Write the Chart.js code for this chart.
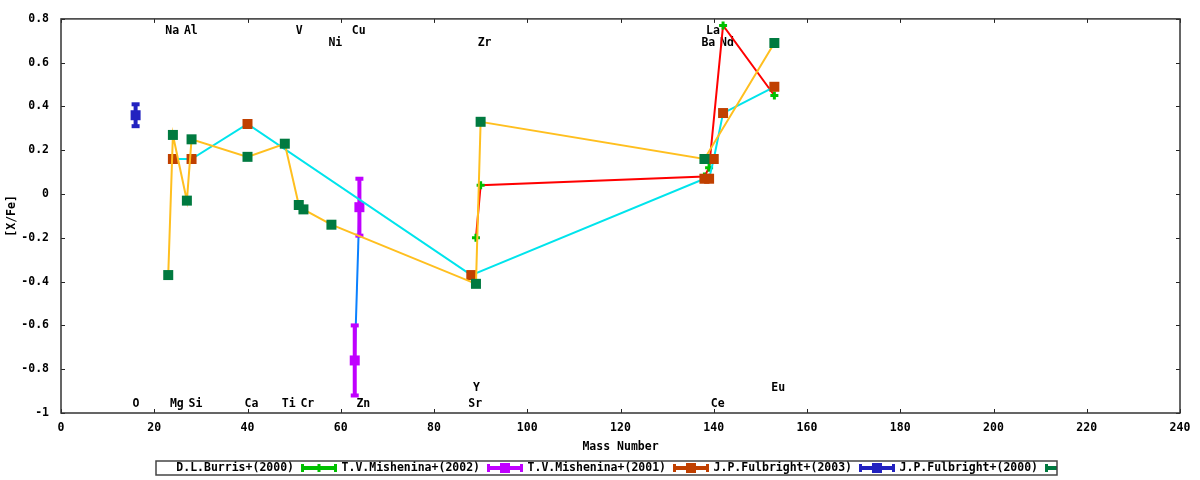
<!DOCTYPE html>
<html>
<head>
<meta charset="utf-8" />
<title>[X/Fe] - Mass Number</title>
<script src="https://cdn.jsdelivr.net/npm/chart.js@4.4.1/dist/chart.umd.min.js"></script>
<style>
  html, body { margin: 0; padding: 0; background: #fff; }
  #wrap { width: 1200px; height: 480px; }
</style>
</head>
<body>
<div id="wrap"><canvas id="chart"></canvas></div>
<script>
// x = mass number, y = [X/Fe]
const seriesNames = ["D.L.Burris+(2000)", "T.V.Mishenina+(2002)", "T.V.Mishenina+(2001)",
                     "J.P.Fulbright+(2003)", "J.P.Fulbright+(2000)"];

const burrisMass = [89, 90, 138, 139, 142, 153];
const burrisVal  = [-0.20, 0.04, 0.08, 0.12, 0.77, 0.45];

const mish02Mass = [63, 64];
const mish02Val  = [-0.76, -0.06];
const mish02Err  = [0.16, 0.13];

const mish01Mass = [24, 28, 40, 88, 138, 139, 140, 142, 153];
const mish01Val  = [0.16, 0.16, 0.32, -0.37, 0.07, 0.07, 0.16, 0.37, 0.49];

const fulb03Mass = [16];
const fulb03Val  = [0.36];
const fulb03Err  = [0.05];

const fulb00Mass = [23, 24, 27, 28, 40, 48, 51, 52, 58, 89, 90, 138, 153];
const fulb00Val  = [-0.37, 0.27, -0.03, 0.25, 0.17, 0.23, -0.05, -0.07, -0.14, -0.41, 0.33, 0.16, 0.69];

// element labels: name, mass number, row (0 bottom, 1 top, 2 second from top, 3 second from bottom)
const elemNames = ["O", "Na", "Mg", "Al", "Si", "Ca", "Ti", "V", "Cr", "Ni", "Cu", "Zn",
                   "Sr", "Y", "Zr", "Ba", "La", "Ce", "Nd", "Eu"];
const elemMass  = [16, 23, 24, 27, 28, 40, 48, 51, 52, 58, 63, 64, 88, 89, 90, 138, 139, 140, 142, 153];
const elemRow   = [0, 1, 0, 1, 0, 0, 0, 1, 0, 2, 1, 0, 0, 3, 2, 2, 1, 0, 2, 3];

const xTicks = { min: 0, max: 240, step: 20 };
const yTicks = { min: -1, max: 0.8, step: 0.2 };

const pts = (xs, ys) => xs.map((m, i) => ({ x: m, y: ys[i] }));

const FONT = "DejaVu Sans Mono";
const fnt = { family: FONT, size: 11.5, weight: "bold" };

// 4 px error bars with caps, drawn right after their own dataset
const errorBars = {
  id: "errorBars",
  afterDatasetDraw(chart, args) {
    const ds = chart.data.datasets[args.index];
    if (!ds.errors) return;
    const { ctx, scales: { x, y } } = chart;
    ctx.save();
    ctx.fillStyle = ds.pointBackgroundColor;
    ds.data.forEach((p, i) => {
      const px = x.getPixelForValue(p.x);
      const top = y.getPixelForValue(p.y + ds.errors[i]);
      const bot = y.getPixelForValue(p.y - ds.errors[i]);
      ctx.fillRect(px - 2, top, 4, bot - top);
      ctx.fillRect(px - 4, top - 2, 8, 4);
      ctx.fillRect(px - 4, bot - 2, 8, 4);
    });
    ctx.restore();
  }
};

// border with inward ticks on all four sides + element names
const frame = {
  id: "frame",
  beforeDatasetsDraw(chart) {
    const { ctx, chartArea: a, scales: { x, y } } = chart;
    ctx.save();
    ctx.strokeStyle = "#222";
    ctx.lineWidth = 1;
    ctx.beginPath();
    x.ticks.forEach(t => {
      const px = Math.round(x.getPixelForValue(t.value)) + 0.5;
      ctx.moveTo(px, a.bottom); ctx.lineTo(px, a.bottom - 4);
      ctx.moveTo(px, a.top); ctx.lineTo(px, a.top + 4);
    });
    y.ticks.forEach(t => {
      const py = Math.round(y.getPixelForValue(t.value)) + 0.5;
      ctx.moveTo(a.left, py); ctx.lineTo(a.left + 4, py);
      ctx.moveTo(a.right, py); ctx.lineTo(a.right - 4, py);
    });
    ctx.stroke();
    ctx.lineWidth = 1.5;
    ctx.strokeStyle = "#333";
    ctx.strokeRect(a.left, a.top, a.right - a.left, a.bottom - a.top);

    const rowY = [-0.96, 0.746, 0.691, -0.888];
    ctx.font = "bold 11.5px '" + FONT + "'";
    ctx.fillStyle = "#000";
    ctx.textAlign = "left";
    ctx.textBaseline = "middle";
    elemNames.forEach((n, i) => {
      ctx.fillText(n, x.getPixelForValue(elemMass[i]) - 3, y.getPixelForValue(rowY[elemRow[i]]));
    });
    ctx.restore();
  }
};

function drawMarker(ctx, ds, cx, cy) {
  if (ds.pointStyle === "cross") {
    ctx.strokeStyle = ds.pointBorderColor;
    ctx.lineWidth = 3;
    ctx.beginPath();
    ctx.moveTo(cx - 4, cy); ctx.lineTo(cx + 4, cy);
    ctx.moveTo(cx, cy - 4); ctx.lineTo(cx, cy + 4);
    ctx.stroke();
  } else {
    ctx.fillStyle = ds.pointBackgroundColor;
    ctx.fillRect(cx - 5, cy - 5, 10, 10);
  }
}

// gnuplot-like horizontal key: text, then errorbar sample
const key = {
  id: "key",
  afterDraw(chart) {
    const ctx = chart.ctx;
    const L = 156, R = 1057, T = 461, B = 475, cy = 468;
    ctx.save();
    ctx.beginPath();
    ctx.rect(L, T, R - L, B - T);
    ctx.clip();
    ctx.font = "bold 11.5px '" + FONT + "'";
    ctx.textAlign = "right";
    ctx.textBaseline = "middle";
    chart.data.datasets.forEach((ds, i) => {
      const sx = 301 + i * 186;
      ctx.fillStyle = "#000";
      ctx.fillText(ds.label, sx - 7, cy + 0.5);
      const c = ds.pointStyle === "cross" ? ds.pointBorderColor : ds.pointBackgroundColor;
      ctx.fillStyle = c;
      ctx.fillRect(sx, cy - 2, 36, 4);
      ctx.fillRect(sx, cy - 4, 3, 8);
      ctx.fillRect(sx + 33, cy - 4, 3, 8);
      drawMarker(ctx, ds, sx + 18, cy);
    });
    ctx.restore();
    ctx.save();
    ctx.strokeStyle = "#444";
    ctx.lineWidth = 1.5;
    ctx.strokeRect(L, T, R - L, B - T);
    ctx.restore();
  }
};

const rectPoint = (marker, line, order, data, extra) => Object.assign({
  data: data,
  showLine: true,
  borderColor: line,
  borderWidth: 2,
  pointStyle: "rect",
  pointRadius: 7.07,
  pointHoverRadius: 7.07,
  pointBorderWidth: 0,
  pointBackgroundColor: marker,
  pointBorderColor: marker,
  order: order
}, extra || {});

new Chart(document.getElementById("chart"), {
  type: "scatter",
  data: {
    datasets: [
      {
        label: seriesNames[0],
        data: pts(burrisMass, burrisVal),
        showLine: true,
        borderColor: "#ff0000",
        borderWidth: 2,
        pointStyle: "cross",
        pointRadius: 4,
        pointHoverRadius: 4,
        pointBorderWidth: 3,
        pointBorderColor: "#00c000",
        pointBackgroundColor: "#00c000",
        order: 5
      },
      rectPoint("#c000ff", "#0a80ff", 4, pts(mish02Mass, mish02Val),
                { label: seriesNames[1], errors: mish02Err }),
      rectPoint("#c04000", "#00e4ec", 3, pts(mish01Mass, mish01Val),
                { label: seriesNames[2] }),
      rectPoint("#2222c0", "#2222c0", 2, pts(fulb03Mass, fulb03Val),
                { label: seriesNames[3], errors: fulb03Err, showLine: false }),
      rectPoint("#007a40", "#ffbf1f", 1, pts(fulb00Mass, fulb00Val),
                { label: seriesNames[4] })
    ]
  },
  options: {
    responsive: true,
    maintainAspectRatio: false,
    animation: false,
    events: [],
    layout: { padding: { top: 14, right: 20, left: 0, bottom: 0 } },
    plugins: {
      legend: { display: false },
      tooltip: { enabled: false }
    },
    scales: {
      x: {
        type: "linear",
        min: xTicks.min,
        max: xTicks.max,
        afterFit: s => { s.height = 67; },
        grid: { display: false, drawTicks: false },
        border: { display: false },
        ticks: {
          stepSize: xTicks.step,
          autoSkip: false,
          maxRotation: 0,
          padding: 8,
          color: "#000",
          font: fnt
        },
        title: {
          display: true,
          text: "Mass Number",
          color: "#000",
          font: fnt,
          padding: { top: 0, bottom: 25.6 }
        }
      },
      y: {
        type: "linear",
        min: yTicks.min,
        max: yTicks.max,
        afterFit: s => { s.width = 61; },
        grid: { display: false, drawTicks: false },
        border: { display: false },
        ticks: {
          stepSize: yTicks.step,
          autoSkip: false,
          padding: 12,
          color: "#000",
          font: fnt,
          callback: v => String(Math.round(v * 10) / 10)
        },
        title: {
          display: true,
          text: "[X/Fe]",
          color: "#000",
          font: fnt,
          padding: { top: 5.6, bottom: 0 }
        }
      }
    }
  },
  plugins: [frame, errorBars, key]
});
</script>
</body>
</html>
